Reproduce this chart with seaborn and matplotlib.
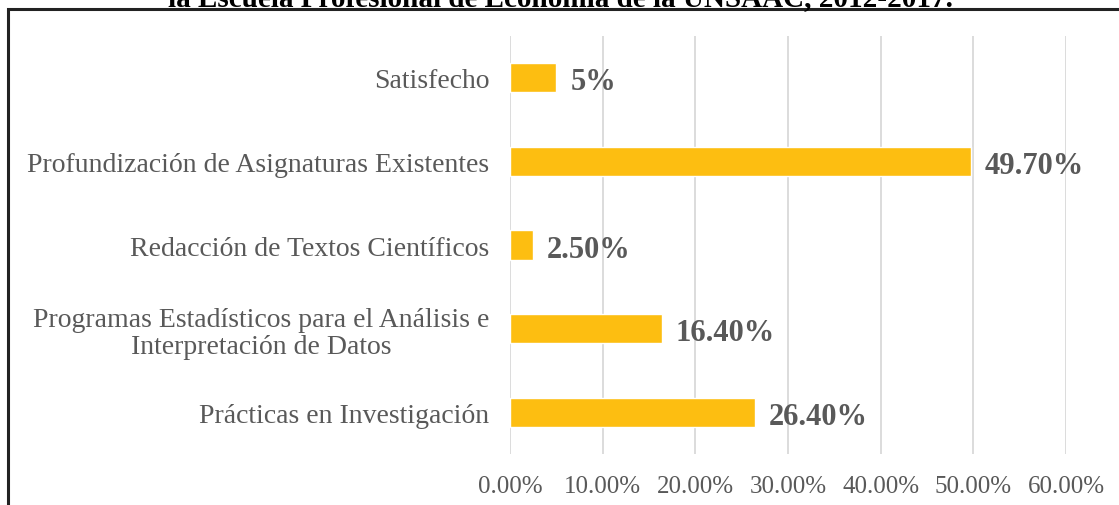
import matplotlib
matplotlib.use("Agg")
import matplotlib.pyplot as plt
import seaborn as sns
import pandas as pd

# Data
categorias = ["Satisfecho",
              "Profundización de Asignaturas Existentes",
              "Redacción de Textos Científicos",
              "Programas Estadísticos para el Análisis e\nInterpretación de Datos",
              "Prácticas en Investigación"]
valores = [0.05, 0.497, 0.025, 0.164, 0.264]
etiquetas = ["5%", "49.70%", "2.50%", "16.40%", "26.40%"]
ticks_x = [0.0, 0.1, 0.2, 0.3, 0.4, 0.5, 0.6]

df = pd.DataFrame({"categoria": categorias, "valor": valores})

sns.set_style("white")
plt.rcParams['font.family'] = ['Liberation Serif', 'DejaVu Serif']

fig = plt.figure(figsize=(11.19, 5.06), dpi=100)
ax = fig.add_axes([510 / 1119, 1 - 455 / 506, (1066 - 510) / 1119, (455 - 37) / 506])

sns.barplot(data=df, x="valor", y="categoria", color="#FDBE11", saturation=1,
            width=0.35, ax=ax, orient="h")

ax.set_xlim(0, 0.6)
ax.set_xticks(ticks_x)
ax.set_xticklabels([f"{t * 100:.2f}%" for t in ticks_x], fontsize=18, color="#595959")
ax.tick_params(axis="y", labelsize=20, colors="#595959", length=0, pad=15)
ax.tick_params(axis="x", length=0, pad=15)
for lab in ax.get_yticklabels():
    lab.set_multialignment("center")
    lab.set_linespacing(1.15)
ax.set_xlabel("")
ax.set_ylabel("")
ax.xaxis.grid(True, color="#d9d9d9", linewidth=1.3)
ax.set_axisbelow(True)
for s in ax.spines.values():
    s.set_visible(False)

for i, (v, t) in enumerate(zip(valores, etiquetas)):
    ax.text(v + 0.015, i + 0.05, t, va="center", ha="left", fontsize=22,
            fontweight="bold", color="#595959")

# outer frame (cropped at the right and bottom)
fig.patches.append(plt.Rectangle((8 / 1119, -0.1), 1.2, 1 - 10 / 506 + 0.1,
                                 transform=fig.transFigure, fill=False,
                                 edgecolor="#222222", linewidth=2.2))
fig.text(560 / 1119, 1.002, "la Escuela Profesional de Economía de la UNSAAC, 2012-2017.",
         ha="center", va="center", fontsize=21, fontweight="bold", color="black")

fig.savefig("out.png", dpi=100)
